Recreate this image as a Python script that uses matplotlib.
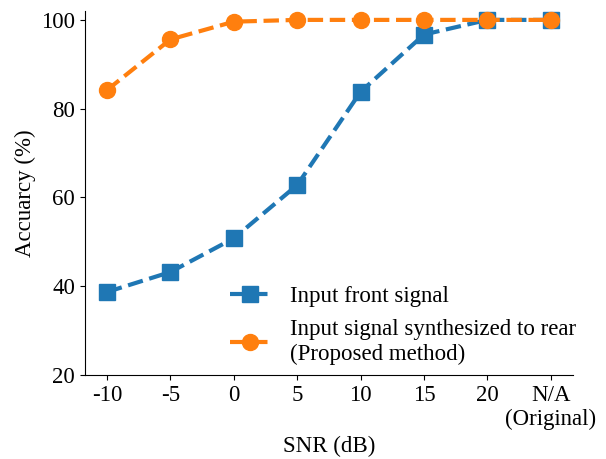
import matplotlib.pyplot as plt

plt.rcParams['font.family'] = ['Liberation Serif', 'DejaVu Serif']
plt.rcParams['font.size'] = 16.5

snr_labels = ['-10', '-5', '0', '5', '10', '15', '20', 'N/A\n(Original)']
acc_front = [38.7, 43.2, 50.8, 62.8, 83.8, 96.7, 100.0, 100.0]
acc_rear = [84.2, 95.6, 99.6, 100.0, 100.0, 100.0, 100.0, 100.0]

x = list(range(len(snr_labels)))

fig, ax = plt.subplots(figsize=(6.06, 4.59), dpi=100)
ax.plot(x, acc_front, '--s', color='#1f77b4', lw=3, ms=11.5, label='Input front signal')
ax.plot(x, acc_rear, '--o', color='#ff7f0e', lw=3, ms=11.5,
        label='Input signal synthesized to rear\n(Proposed method)')

ax.set_xticks(x)
ax.set_xticklabels(snr_labels)
ax.set_xlim(-0.35, 7.35)
ax.set_ylim(20, 102)
ax.set_yticks([20, 40, 60, 80, 100])
ax.set_xlabel('SNR (dB)')
ax.set_ylabel('Accuarcy (%)')
ax.spines['top'].set_visible(False)
ax.spines['right'].set_visible(False)
ax.legend(loc='lower right', bbox_to_anchor=(1.045, -0.022), frameon=False,
          handlelength=1.75, handletextpad=0.9, borderpad=0.3, labelspacing=0.55)

fig.subplots_adjust(left=0.14, right=0.9455, top=0.976, bottom=0.183)
fig.savefig('out.png')
